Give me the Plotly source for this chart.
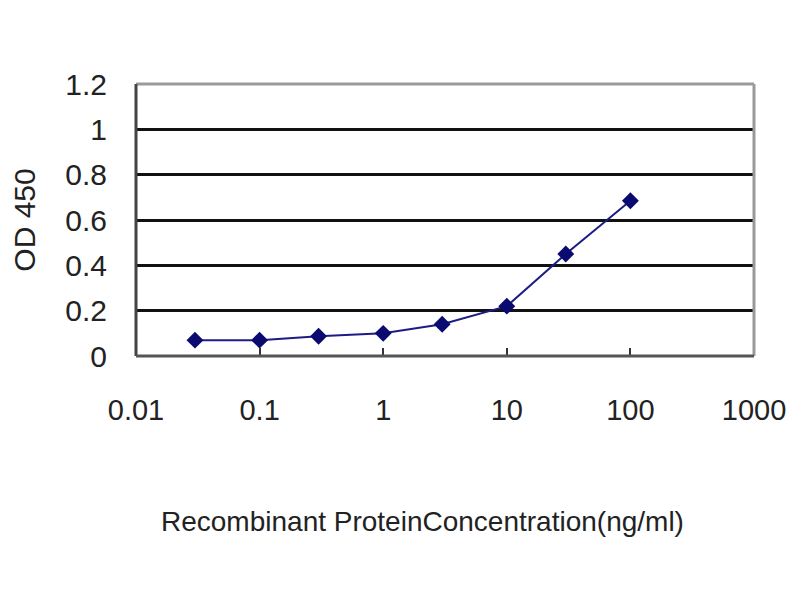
import plotly.graph_objects as go

concentration = [0.03, 0.1, 0.3, 1, 3, 10, 30, 100]
od450 = [0.07, 0.07, 0.087, 0.10, 0.14, 0.22, 0.45, 0.685]
x_tick_vals = [0.01, 0.1, 1, 10, 100, 1000]
x_tick_text = ["0.01", "0.1", "1", "10", "100", "1000"]
y_tick_vals = [0, 0.2, 0.4, 0.6, 0.8, 1.0, 1.2]
y_tick_text = ["0", "0.2", "0.4", "0.6", "0.8", "1", "1.2"]
x_title = "Recombinant ProteinConcentration(ng/ml)"
y_title = "OD 450"

FONT = "Liberation Sans, Arial, sans-serif"

fig = go.Figure()
fig.add_trace(go.Scatter(
    x=concentration, y=od450, mode="lines+markers",
    line=dict(color="#1c1c86", width=2),
    marker=dict(symbol="diamond", size=13, color="#0a0a70"),
    showlegend=False,
))

fig.update_layout(
    width=800, height=600,
    margin=dict(l=128, r=54, t=76, b=252, autoexpand=False),
    paper_bgcolor="white", plot_bgcolor="white",
    font=dict(family=FONT, color="#222222"),
    xaxis=dict(
        type="log", range=[-2, 3], automargin=False,
        tickvals=x_tick_vals, ticktext=x_tick_text,
        tickfont=dict(size=29, family=FONT, color="#222222"),
        ticks="inside", ticklen=8, tickwidth=1.5, tickcolor="#333333",
        ticklabelstandoff=34,
        showgrid=False, zeroline=False, showline=False,
    ),
    yaxis=dict(
        range=[0, 1.2], automargin=False,
        tickvals=y_tick_vals, ticktext=y_tick_text,
        tickfont=dict(size=30, family=FONT, color="#222222"),
        ticks="", ticklabelstandoff=28,
        showgrid=True, gridcolor="#111111", gridwidth=3,
        zeroline=False, showline=False,
        title=dict(text=y_title,
                   font=dict(size=30, family=FONT, color="#222222"),
                   standoff=20),
    ),
    annotations=[
        dict(text=x_title, xref="paper", yref="paper", x=0.464, y=-0.607,
             xanchor="center", yanchor="middle", showarrow=False,
             font=dict(size=28, family=FONT, color="#222222")),
    ],
    shapes=[
        dict(type="line", xref="paper", yref="paper", x0=0, x1=1, y0=1, y1=1,
             line=dict(color="#9a9a9a", width=3), layer="above"),
        dict(type="line", xref="paper", yref="paper", x0=1, x1=1, y0=0, y1=1,
             line=dict(color="#9a9a9a", width=3), layer="above"),
        dict(type="line", xref="paper", yref="paper", x0=0, x1=0, y0=0, y1=1,
             line=dict(color="#444444", width=3), layer="above"),
        dict(type="line", xref="paper", yref="paper", x0=0, x1=1, y0=0, y1=0,
             line=dict(color="#555555", width=3), layer="above"),
    ],
)

fig.write_html("out.html")
